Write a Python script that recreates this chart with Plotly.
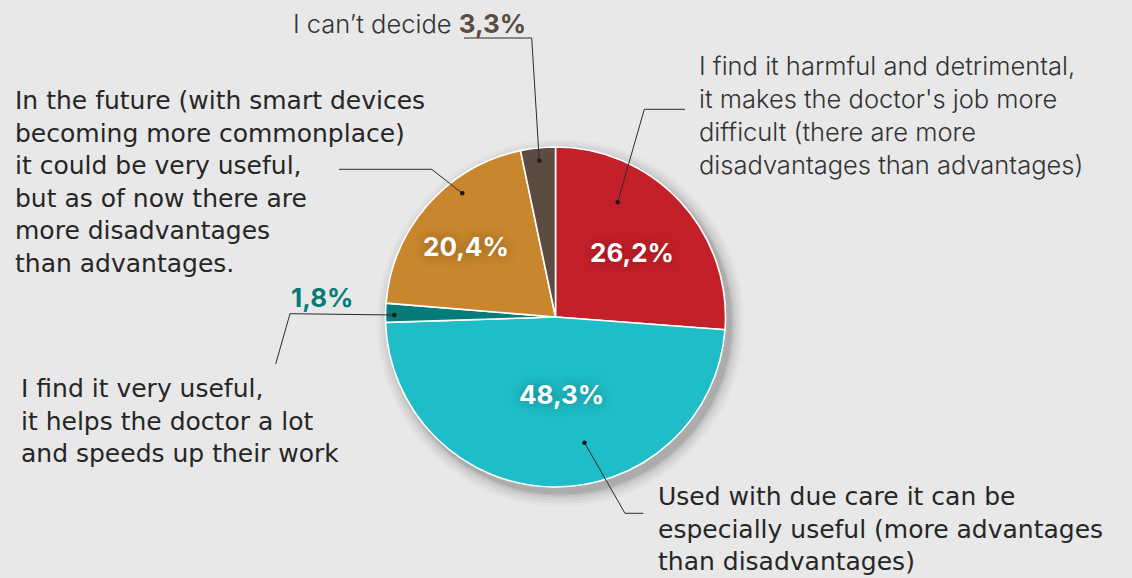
import plotly.graph_objects as go

# ---- data ----
categories = [
    "I find it harmful and detrimental, it makes the doctor's job more difficult",
    "Used with due care it can be especially useful",
    "I find it very useful, it helps the doctor a lot and speeds up their work",
    "In the future it could be very useful, but as of now more disadvantages",
    "I can't decide",
]
values = [26.2, 48.3, 1.8, 20.4, 3.3]
value_labels = ["26,2%", "48,3%", "1,8%", "20,4%", "3,3%"]
colors = ["#c4202a", "#1ebdc7", "#067b79", "#c8862d", "#5b4b41"]

W, H = 1132, 578
BG = "#e8e8e8"
FONT = "DejaVu Sans"
LIGHT = "Inter"
NUMFONT = "Inter"
TXT = "#262626"

def px(x):
    return x / W

def py(y):
    return 1 - y / H

cx, cy, R = 555.5, 317.0, 170.0

fig = go.Figure()
fig.add_trace(go.Pie(
    labels=categories, values=values, sort=False, direction="clockwise",
    rotation=0, textinfo="none", hoverinfo="label+percent",
    marker=dict(colors=colors, line=dict(color="white", width=1.6)),
    domain=dict(x=[px(cx - R), px(cx + R)], y=[py(cy + R), py(cy - R)]),
    showlegend=False,
))

shapes = []
# soft drop shadow
for dr, op in [(14, 0.02), (11, 0.03), (8, 0.04), (5, 0.05), (3, 0.06), (1.5, 0.08)]:
    rr = R + dr
    ox, oy = 5, 6
    shapes.append(dict(type="circle", xref="paper", yref="paper", layer="below",
                       x0=px(cx + ox - rr), x1=px(cx + ox + rr),
                       y0=py(cy + oy + rr), y1=py(cy + oy - rr),
                       fillcolor=f"rgba(0,0,0,{op})", line=dict(width=0)))

# leader lines (pixel polylines)
leaders = [
    [(617.7, 202.3), (644.3, 109.3), (685, 109.3)],    # red
    [(584.5, 442.7), (625, 513.3), (643.3, 513.3)],    # cyan
    [(394.3, 315.0), (290, 313.7), (275.7, 364)],      # teal
    [(462.3, 193.3), (431.7, 169.3), (339, 169.3)],    # orange
    [(539.3, 160.7), (531.7, 38), (464, 38)],          # brown
]
for pts in leaders:
    path = "M " + " L ".join(f"{px(x)},{py(y)}" for x, y in pts)
    shapes.append(dict(type="path", xref="paper", yref="paper", path=path,
                       line=dict(color="#2b2b2b", width=1)))
    x0, y0 = pts[0]
    d = 2.3
    shapes.append(dict(type="circle", xref="paper", yref="paper",
                       x0=px(x0 - d), x1=px(x0 + d), y0=py(y0 + d), y1=py(y0 - d),
                       fillcolor="#1a1a1a", line=dict(width=0)))

annotations = []

def ann(text, x, y, size=25, color=TXT, weight=400, xanchor="left", shadow=None, family=FONT):
    f = dict(family=family, size=size, color=color, weight=weight)
    if shadow:
        f["shadow"] = shadow
    annotations.append(dict(text=text, x=px(x), y=py(y), xref="paper", yref="paper",
                            xanchor=xanchor, yanchor="middle", align="left",
                            showarrow=False, font=f))

glow = "0px 0px 12px rgba(0,0,0,0.35)"
ann("<b>" + value_labels[0] + "</b>", 632, 253, size=26, color="white", xanchor="center", shadow=glow, family=NUMFONT)
ann("<b>" + value_labels[1] + "</b>", 561, 394, size=26, color="white", xanchor="center", shadow=glow, family=NUMFONT)
ann("<b>" + value_labels[3] + "</b>", 466, 246, size=26, color="white", xanchor="center", shadow=glow, family=NUMFONT)
ann("<b>" + value_labels[2] + "</b>", 323, 297, size=26, color=colors[2], xanchor="center", family=NUMFONT)

ann("I can’t decide <b><span style='font-size:26px;color:%s'>%s</span></b>" % (colors[4], value_labels[4]),
    291, 24, size=25.5, weight=300, color="#333333", family=LIGHT)
ann("I find it harmful and detrimental,<br>it makes the doctor's job more<br>"
    "difficult (there are more<br>disadvantages than advantages)", 697, 115,
    size=25.5, weight=300, color="#333333", family=LIGHT)
ann("In the future (with smart devices<br>becoming more commonplace)<br>"
    "it could be very useful,<br>but as of now there are<br>more disadvantages<br>"
    "than advantages.", 13, 182)
ann("I find it very useful,<br>it helps the doctor a lot<br>and speeds up their work",
    19, 421)
ann("Used with due care it can be<br>especially useful (more advantages<br>"
    "than disadvantages)", 656, 529)

fig.update_layout(
    width=W, height=H, margin=dict(l=0, r=0, t=0, b=0),
    paper_bgcolor=BG, plot_bgcolor=BG,
    shapes=shapes, annotations=annotations,
)
fig.write_html("out.html")
